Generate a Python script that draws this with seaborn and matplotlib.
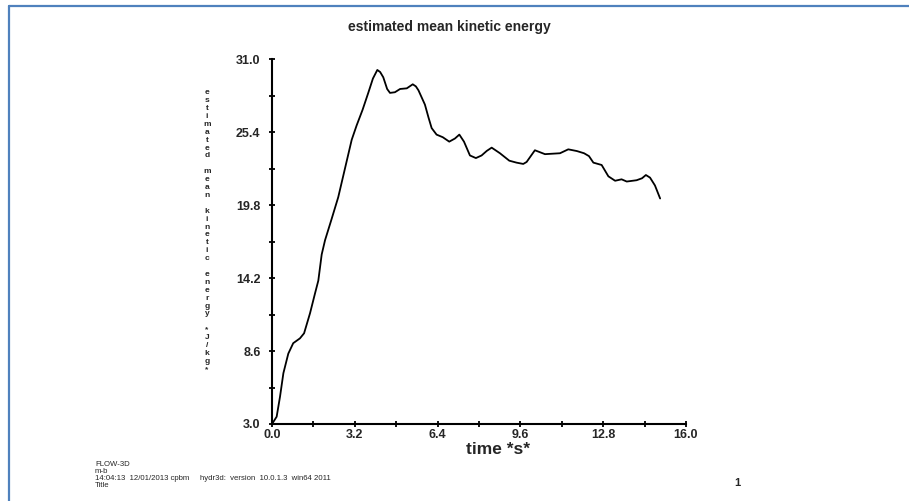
import numpy as np
import pandas as pd
import matplotlib.pyplot as plt
from matplotlib.lines import Line2D
import seaborn as sns

# dados
tempo = [0.0, 0.18, 0.31, 0.44, 0.63, 0.82, 1.08, 1.24, 1.47, 1.66, 1.79, 1.92, 2.05,
         2.30, 2.56, 2.82, 3.08, 3.27, 3.50, 3.72, 3.90, 4.07, 4.18, 4.30, 4.45, 4.56,
         4.75, 4.95, 5.21, 5.44, 5.56, 5.66, 5.91, 6.05, 6.17, 6.36, 6.60, 6.85,
         7.07, 7.24, 7.42, 7.65, 7.88, 8.10, 8.30, 8.49, 8.81, 9.17, 9.45, 9.71,
         9.84, 10.16, 10.55, 11.13, 11.45, 11.78, 12.06, 12.25, 12.42, 12.74, 13.0,
         13.26, 13.51, 13.71, 14.09, 14.30, 14.45, 14.61, 14.80, 15.0]
energia = [3.0, 3.56, 5.1, 6.9, 8.4, 9.2, 9.57, 9.96, 11.5, 13.0, 14.0, 16.0, 17.1,
           18.7, 20.4, 22.6, 24.8, 25.9, 27.1, 28.4, 29.5, 30.16, 30.0, 29.6, 28.7, 28.4,
           28.45, 28.7, 28.75, 29.06, 28.9, 28.6, 27.5, 26.5, 25.7, 25.2, 25.0, 24.66,
           24.9, 25.2, 24.66, 23.6, 23.4, 23.6, 23.95, 24.2, 23.77, 23.2, 23.05, 22.95,
           23.1, 24.0, 23.7, 23.77, 24.07, 23.94, 23.77, 23.55, 23.05, 22.87, 22.0,
           21.66, 21.77, 21.6, 21.7, 21.85, 22.1, 21.9, 21.3, 20.3]

xticks = [0.0, 3.2, 6.4, 9.6, 12.8, 16.0]
yticks = [3.0, 8.6, 14.2, 19.8, 25.4, 31.0]

df = pd.DataFrame({'tempo': tempo, 'energia': energia})

sns.set_style('white')
plt.rcParams['font.family'] = ['Liberation Sans', 'DejaVu Sans']

fig = plt.figure(figsize=(9.09, 5.01), dpi=100)
ax = fig.add_axes([272 / 909, 1 - 424 / 501, 414 / 909, 365 / 501])

sns.lineplot(data=df, x='tempo', y='energia', color='black', linewidth=1.3, ax=ax)

ax.set_xlim(0, 16)
ax.set_ylim(3, 31)
ax.set_xticks(xticks)
ax.set_xticklabels([f'{v:.1f}' for v in xticks], fontweight='bold', fontsize=9)
ax.set_yticks(yticks)
ax.set_yticklabels([f'{v:.1f}' for v in yticks], fontweight='bold', fontsize=9)
ax.set_xticks([1.6, 4.8, 8.0, 11.2, 14.4], minor=True)
ax.set_yticks([5.8, 11.4, 17.0, 22.6, 28.2], minor=True)
ax.tick_params(which='both', bottom=True, left=True, direction='inout', length=4.5,
               width=1.3, color='black')
ax.tick_params(axis='x', pad=1)
ax.tick_params(axis='y', pad=6)
ax.set_xlabel('')
ax.set_ylabel('')
for s in ['top', 'right']:
    ax.spines[s].set_visible(False)
for s in ['left', 'bottom']:
    ax.spines[s].set_linewidth(1.5)
    ax.spines[s].set_color('black')

# títulos e rótulos
fig.text(449 / 909, 1 - 27 / 501, 'estimated mean kinetic energy', ha='center', va='center',
         fontsize=10, fontweight='bold')
fig.text(498 / 909, 1 - 449 / 501, 'time *s*', ha='center', va='center',
         fontsize=12.5, fontweight='bold')
rotulo_y = 'estimated mean kinetic energy *J/kg*'
fig.text(207 / 909, 1 - 231 / 501, '\n'.join(rotulo_y), ha='center', va='center',
         fontsize=6, fontweight='bold', linespacing=1.18)

# rodapé
rodape = 'FLOW-3D\nm-b\n14:04:13  12/01/2013 cpbm     hydr3d:  version  10.0.1.3  win64 2011\nTitle'
fig.text(95 / 909, 1 - 475 / 501, rodape, ha='left', va='center', fontsize=5.6,
         linespacing=0.95)
fig.text(737 / 909, 1 - 483 / 501, '1', ha='center', va='center', fontsize=8, fontweight='bold')

# moldura azul
fig.add_artist(Line2D([9 / 909, 9 / 909], [0, 1 - 6 / 501], color='#4F81BD', linewidth=1.6,
                      transform=fig.transFigure))
fig.add_artist(Line2D([9 / 909, 1], [1 - 6 / 501, 1 - 6 / 501], color='#4F81BD', linewidth=1.6,
                      transform=fig.transFigure))

plt.savefig('out.png', dpi=100)
